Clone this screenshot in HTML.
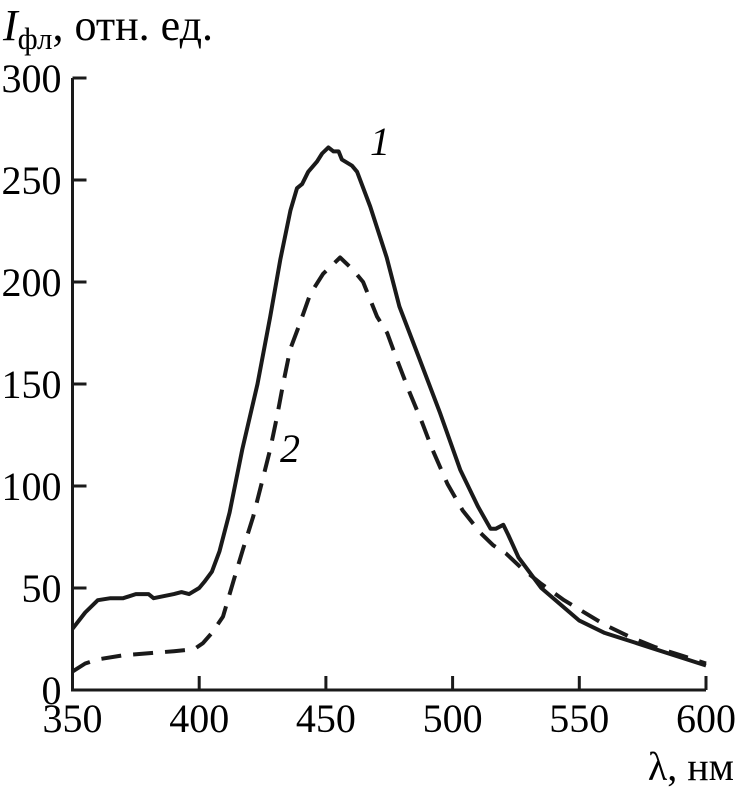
<!DOCTYPE html>
<html><head><meta charset="utf-8"><style>
html,body{margin:0;padding:0;background:#fff;}
svg{display:block;font-family:"Liberation Serif",serif;}
</style></head><body>
<svg id="chart" width="736" height="791" viewBox="0 0 736 791">
<g id="axes"></g>
<g id="series"></g>
<text x="3" y="40" font-size="44"><tspan font-style="italic">I</tspan><tspan font-size="31" dy="9">фл</tspan><tspan dy="-9">, отн. ед.</tspan></text>
<text x="734" y="780" font-size="40" text-anchor="end">λ, нм</text>
<text x="370" y="155" font-size="40" font-style="italic">1</text>
<text x="280" y="462" font-size="40" font-style="italic">2</text>
</svg>
<script>
const xTicks=[350,400,450,500,550,600];
const yTicks=[0,50,100,150,200,250,300];
const wl1=[350,355,360,365,370,375,380,382,390,393,396,400,402,405,408,412,417,423,428,432,436,438.6,440.6,443,446.5,448.5,451,453,455,456.3,460.3,462.3,467.5,474,479,487,495,503,510,515,517,520,522,526,535,550,560,570,580,590,600];
const int1=[30,38,44,45,45,47,47,45,47,48,47,50,53,58,68,87,118,150,183,211,235,246,248,254,259,263,266,264,264,260,257,254,237,212,188,162,136,108,90,79,79,81,76,65,50,34,28,24,20,16,12];
const wl2=[350,355,360,370,380,390,398,401.5,405,409.4,413.4,417.3,421.3,424.8,428,430.7,433.1,435.9,439.8,443.8,448.9,455.6,460.7,464.7,470.2,474.2,478,483,488,492,498,504,511,516,521,527,535,544,560,570,580,590,600];
const int2=[9,13,15,17,18,19,20,23,28,36,53,69,85,102,118,134,150,167,180,194,204,212,206,200,183,175,162,146,131,118,101,88,77,71,67,60,52,44,32,26,21,17,13];
const X0=72.5,X1=706,Y0=690,Y1=78;
const sx=v=>X0+(v-350)/(600-350)*(X1-X0);
const sy=v=>Y0-(v/300)*(Y0-Y1);
const NS='http://www.w3.org/2000/svg';
const axes=document.getElementById('axes'),ser=document.getElementById('series');
function mk(tag,attrs,parent){const e=document.createElementNS(NS,tag);for(const k in attrs)e.setAttribute(k,attrs[k]);parent.appendChild(e);return e;}
const ax=mk('path',{d:`M${X0},${Y1}V${Y0}H${X1}`,fill:'none',stroke:'#1a1a1a','stroke-width':3},axes);


xTicks.forEach(t=>{
 const l=mk('line',{x1:sx(t),x2:sx(t),y1:Y0,y2:Y0-14,stroke:'#1a1a1a','stroke-width':3},axes);
 
 
 const tx=mk('text',{x:sx(t),y:Y0+42,'font-size':40,'text-anchor':'middle'},axes);
 tx.textContent=t;
 
 
});
yTicks.forEach(t=>{
 const l=mk('line',{x1:X0,x2:X0+14,y1:sy(t),y2:sy(t),stroke:'#1a1a1a','stroke-width':3},axes);
 
 
 const tx=mk('text',{x:X0-11,y:sy(t)+14,'font-size':40,'text-anchor':'end'},axes);
 tx.textContent=t;
 
 
});
function line(xs,ys,dash,name){
 const d=xs.map((v,i)=>(i?'L':'M')+sx(v).toFixed(1)+','+sy(ys[i]).toFixed(1)).join('');
 const p=mk('path',{d:d,fill:'none',stroke:'#1a1a1a','stroke-width':4,'stroke-linejoin':'round'},ser);
 if(dash)p.setAttribute('stroke-dasharray',dash);
 
 
}
line(wl1,int1,null,'series-1-line');
line(wl2,int2,'20 12','series-2-line');
</script>
</body></html>
